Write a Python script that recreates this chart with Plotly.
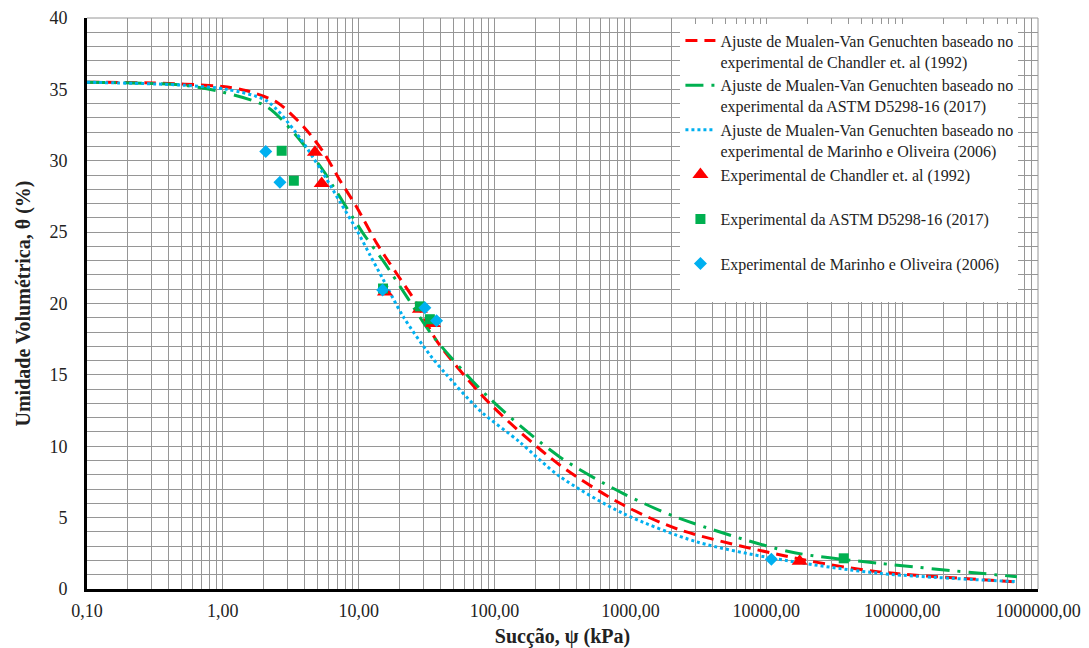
import plotly.graph_objects as go

# ---------------- data ----------------
# Mualem-Van Genuchten fit curves
chandler_fit_x = [0.1, 0.3, 1.0, 1.5, 2.5, 4.0, 5.5, 7.3, 9.6, 13.6, 19, 26.7, 37.4, 92, 300, 880, 2300, 17600, 68000, 700000]
chandler_fit_y = [35.5, 35.45, 35.2, 34.9, 34.1, 32.3, 30.6, 28.6, 26.8, 24.2, 22.1, 20.0, 17.4, 13.0, 8.7, 5.9, 4.15, 2.1, 1.2, 0.5]

astm_fit_x = [0.1, 0.5, 1.0, 2.1, 3.3, 5.5, 6.5, 10.8, 15.1, 22.5, 35.3, 92, 300, 880, 2300, 14900, 68000, 700000]
astm_fit_y = [35.5, 35.3, 34.8, 33.8, 32.0, 29.3, 28.2, 24.9, 23.0, 20.5, 17.7, 13.35, 9.27, 6.7, 4.95, 2.61, 1.8, 0.86]

marinho_fit_x = [0.1, 0.5, 1.07, 2.1, 3.5, 5.4, 7.3, 9.6, 12.1, 15.1, 21.2, 33.4, 44.4, 78, 153, 300, 880, 3060, 11200, 68000, 700000]
marinho_fit_y = [35.5, 35.3, 35.0, 34.2, 31.9, 29.2, 27.1, 25.2, 23.4, 21.7, 19.1, 16.4, 15.0, 12.5, 10.3, 7.9, 5.3, 3.31, 2.15, 1.1, 0.51]

# Experimental points
chandler_x = [4.76, 5.34, 15.6, 28.2, 35.2, 17600]
chandler_y = [30.6, 28.4, 20.8, 19.6, 18.6, 1.95]

astm_x = [2.71, 3.33, 15.1, 28.2, 33.4, 37150]
astm_y = [30.7, 28.6, 21.05, 19.8, 18.9, 2.15]

marinho_x = [2.07, 2.63, 15.0, 30.7, 37.4, 10900]
marinho_y = [30.65, 28.5, 20.95, 19.7, 18.8, 2.08]

x_tick_vals = [0.1, 1, 10, 100, 1000, 10000, 100000, 1000000]
x_tick_text = ["0,10", "1,00", "10,00", "100,00", "1000,00", "10000,00", "100000,00", "1000000,00"]
y_tick_vals = [0, 5, 10, 15, 20, 25, 30, 35, 40]

legend_names = [
    "Ajuste de Mualen-Van Genuchten baseado no<br>experimental de Chandler et. al (1992)",
    "Ajuste de Mualen-Van Genuchten baseado no<br>experimental da ASTM D5298-16 (2017)",
    "Ajuste de Mualen-Van Genuchten baseado no<br>experimental de Marinho e Oliveira (2006)",
    "Experimental de Chandler et. al (1992)<br> ",
    "Experimental da ASTM D5298-16 (2017)<br> ",
    "Experimental de Marinho e Oliveira (2006)<br> ",
]

RED = "#FF0000"
GREEN = "#00B050"
BLUE = "#00B0F0"
GRID = "#969696"
SERIF = "Liberation Serif"

fig = go.Figure()

fig.add_trace(go.Scatter(x=chandler_fit_x, y=chandler_fit_y, mode="lines", name=legend_names[0],
                         line=dict(color=RED, width=3, dash="12px,7px", shape="spline", smoothing=0.8)))
fig.add_trace(go.Scatter(x=astm_fit_x, y=astm_fit_y, mode="lines", name=legend_names[1],
                         line=dict(color=GREEN, width=3, dash="18px,8px,3px,8px", shape="spline", smoothing=0.8)))
fig.add_trace(go.Scatter(x=marinho_fit_x, y=marinho_fit_y, mode="lines", name=legend_names[2],
                         line=dict(color=BLUE, width=3, dash="3px,3px", shape="spline", smoothing=0.8)))

fig.add_trace(go.Scatter(x=chandler_x, y=chandler_y, mode="markers", name=legend_names[3],
                         marker=dict(symbol="triangle-up", size=14, color=RED)))
fig.add_trace(go.Scatter(x=astm_x, y=astm_y, mode="markers", name=legend_names[4],
                         marker=dict(symbol="square", size=10, color=GREEN)))
fig.add_trace(go.Scatter(x=marinho_x, y=marinho_y, mode="markers", name=legend_names[5],
                         marker=dict(symbol="diamond", size=10, color=BLUE)))

# the page body adds an 8px offset, so the figure is sized/margined to compensate
fig.update_layout(
    width=1081, height=640,
    margin=dict(l=79, r=51, t=10, b=59),
    paper_bgcolor="white", plot_bgcolor="white",
    font=dict(family=SERIF, size=18, color="#222222"),
    showlegend=True,
    legend=dict(
        x=0.624, y=0.99, xanchor="left", yanchor="top",
        bgcolor="white", borderwidth=0,
        font=dict(family=SERIF, size=16, color="#222222"),
        valign="top", tracegroupgap=0,
    ),
    xaxis=dict(
        type="log", range=[-1, 6], automargin=False,
        tickmode="array", tickvals=x_tick_vals, ticktext=x_tick_text,
        showgrid=True, gridcolor=GRID, gridwidth=1,
        minor=dict(dtick="D1", showgrid=True, gridcolor=GRID, gridwidth=1, ticks=""),
        showline=True, linecolor="black", linewidth=3,
        ticks="", ticklabelstandoff=3,
        zeroline=False,
        title=dict(text="<b>Sucção, ψ (kPa)</b>", font=dict(family=SERIF, size=20, color="#222222"), standoff=13),
    ),
    yaxis=dict(
        range=[0, 40], tickmode="array", tickvals=y_tick_vals, automargin=False,
        showgrid=True, gridcolor=GRID, gridwidth=1,
        minor=dict(dtick=1, showgrid=True, gridcolor=GRID, gridwidth=1, ticks=""),
        showline=True, linecolor="black", linewidth=3,
        ticks="", ticklabelstandoff=13,
        zeroline=False,
        title=dict(text="<b>Umidade Volumétrica, θ (%)</b>", font=dict(family=SERIF, size=20, color="#222222"), standoff=14),
    ),
    shapes=[
        dict(type="line", xref="paper", yref="paper", x0=0, x1=1, y0=1, y1=1, line=dict(color=GRID, width=1), layer="below"),
        dict(type="line", xref="paper", yref="paper", x0=1, x1=1, y0=0, y1=1, line=dict(color=GRID, width=1), layer="below"),
    ],
)

fig.write_html("out.html")
